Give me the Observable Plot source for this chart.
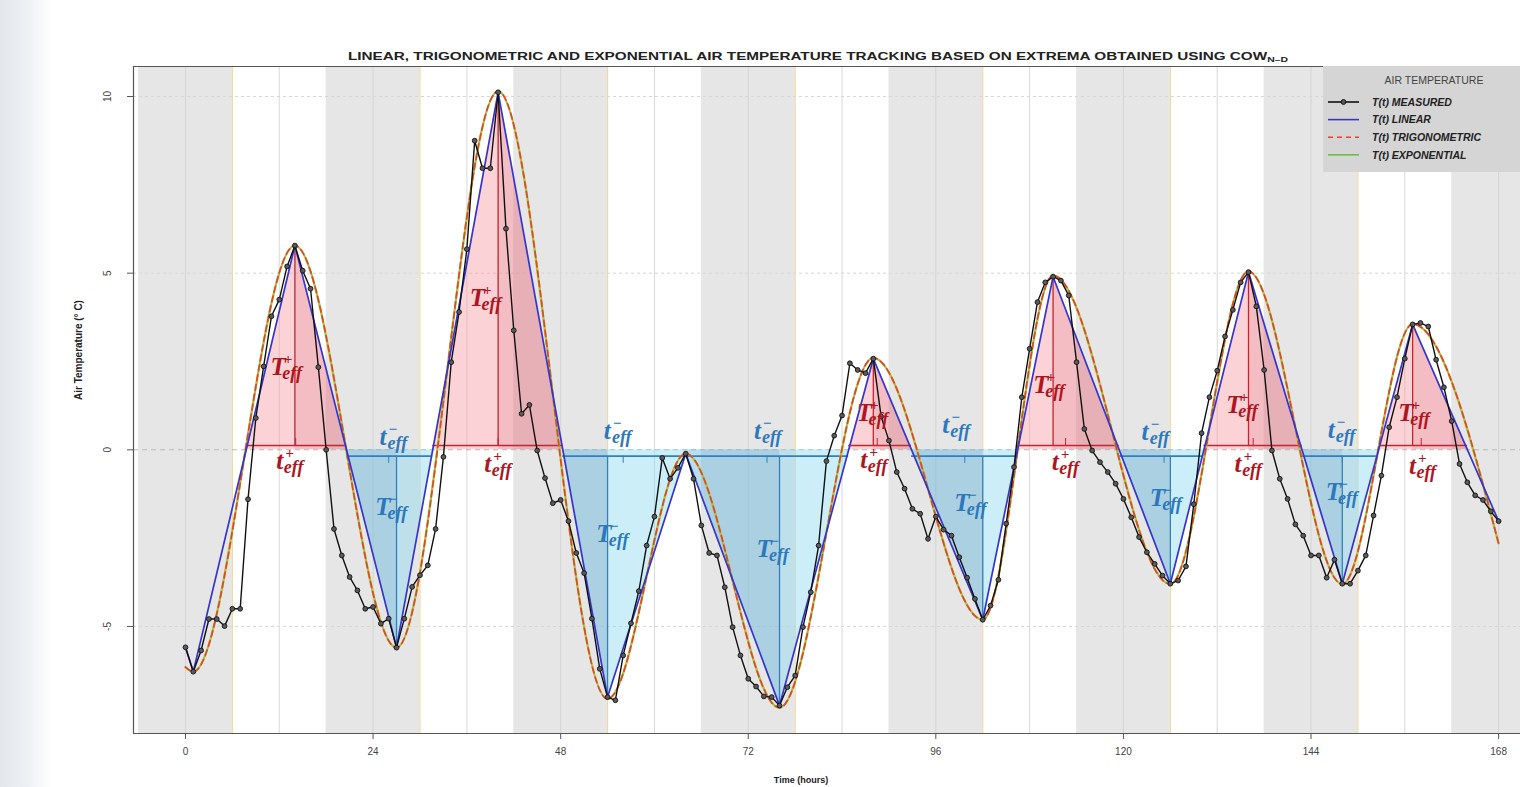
<!DOCTYPE html>
<html><head><meta charset="utf-8">
<script src="https://cdn.jsdelivr.net/npm/d3@7"></script>
<script src="https://cdn.jsdelivr.net/npm/@observablehq/plot@0.6"></script>
<style>
body{margin:0;background:#fff;font-family:"Liberation Sans",Arial,sans-serif;}
#wrap{position:relative;width:1520px;height:787px;overflow:hidden;background:linear-gradient(to right,#e3e7ec 0px,#eef1f4 28px,#ffffff 52px);}
#title{position:absolute;left:0;top:0;}
#chart{position:absolute;left:0;top:64px;}
#legend{position:absolute;left:1323px;top:66px;}
</style></head>
<body><div id="wrap">
<svg id="title" width="1520" height="64"><text x="818" y="60" text-anchor="middle" font-family="Liberation Sans, Arial, sans-serif" font-weight="bold" font-size="11" fill="#222" textLength="940" lengthAdjust="spacingAndGlyphs">LINEAR, TRIGONOMETRIC AND EXPONENTIAL AIR TEMPERATURE TRACKING BASED ON EXTREMA OBTAINED USING COW<tspan font-size="7.5" dy="2">N–D</tspan></text></svg>
<div id="chart"></div>
<svg id="legend" width="197" height="106"></svg>
</div>
<script>
// ---- data ----
const measured = [-5.59,-6.28,-5.68,-4.79,-4.79,-4.99,-4.5,-4.5,-1.4,0.9,2.36,3.78,4.25,5.19,5.78,5.07,4.56,2.34,0.0,-2.24,
-2.99,-3.6,-3.98,-4.5,-4.45,-4.92,-4.78,-5.6,-4.78,-3.88,-3.55,-3.27,-2.24,-0.2,2.48,3.9,5.68,8.75,7.97,7.97,
10.12,6.26,3.38,1.02,1.27,-0.02,-0.8,-1.51,-1.42,-2.02,-2.92,-3.49,-4.78,-6.2,-7.0,-7.09,-5.82,-4.91,-4.0,-2.71,
-1.89,-0.23,-0.82,-0.51,-0.11,-0.82,-2.14,-2.92,-2.99,-3.89,-5.02,-5.82,-6.48,-6.7,-6.98,-7.0,-7.24,-6.72,-6.39,-5.02,
-4.03,-2.71,-0.32,0.4,0.97,2.45,2.26,2.17,2.58,0.94,0.26,-0.63,-1.1,-1.67,-1.81,-2.52,-1.89,-2.26,-2.43,-3.04,
-3.62,-4.22,-4.81,-4.41,-3.68,-2.09,-0.49,1.49,2.86,4.18,4.74,4.9,4.79,4.37,2.48,0.59,-0.02,-0.35,-0.63,-0.96,
-1.39,-1.91,-2.47,-2.9,-3.23,-3.56,-3.79,-3.7,-3.3,-1.54,0.47,1.49,2.24,3.21,3.96,4.74,5.03,4.06,2.26,-0.02,
-0.82,-1.39,-2.11,-2.43,-2.99,-2.99,-3.62,-3.11,-3.79,-3.79,-3.42,-2.99,-1.86,-0.73,0.64,1.49,2.58,3.55,3.59,3.49,
2.55,1.77,0.81,-0.4,-0.92,-1.29,-1.42,-1.74,-2.02];
const extremaT = [0,1,14,27,40,54,64,76,88,102,111,126,136,148,157,168];
const extremaV = [-5.59,-6.28,5.78,-5.6,10.12,-7.0,-0.11,-7.24,2.58,-4.81,4.9,-3.79,5.03,-3.79,3.55,-2.02];
const curveT = [0,1,14,27,40,54,64,76,88,102,111,126,136,148,157,168];
const curveV = [-6.15,-6.28,5.78,-5.6,10.15,-7.05,-0.11,-7.3,2.6,-4.81,4.93,-3.8,5.05,-3.8,3.56,-2.65];
const peakT = [14,40,88,111,136,157];
const troughT = [27,54,76,102,126,148];
const sunset = [-6,18,42,66,90,114,138,162];
const sunrise = [6,30,54,78,102,126,150,174];
const gridHours = [0,12,24,36,48,60,72,84,96,108,120,132,144,156,168];
const xTicks = [0,24,48,72,96,120,144,168];
const yTicks = [-5,0,5,10];
const effLevelPos = 0.12, effLevelNeg = -0.18;
const teffPosT = [14.1,40.0,88.5,112.6,136.6,158.1];
const teffNegT = [26.0,56.0,74.4,99.7,125.2,148.0];
// label centres (hours, °C)
const TposLabT = [13.3,38.8,88.3,110.9,135.6,157.6], TposLabV = [2.27,4.2,0.97,1.76,1.17,0.97];
const tposLabT = [13.8,40.4,88.5,113.0,136.4,158.7], tposLabV = [-0.39,-0.5,-0.36,-0.44,-0.5,-0.53];
const tnegLabT = [27.0,55.7,74.9,99.0,124.5,148.3], tnegLabV = [0.29,0.46,0.46,0.63,0.41,0.49];
const TnegLabT = [26.7,55.0,75.5,100.8,125.8,148.3], TnegLabV = [-1.69,-2.48,-2.88,-1.58,-1.44,-1.29];

// ---- derived tables ----
const meas = measured.map((v,i)=>({t:i, v}));
const ext = extremaT.map((t,i)=>({t, v:extremaV[i]}));
const crv = curveT.map((t,i)=>({t, v:curveV[i]}));
const vAt = t => ext.find(d=>d.t===t).v;
const xLo = -6.65, xHi = 170.8, yLo = -8.03, yHi = 10.85;

const fills = [];
let gid = 0;
for (let i = 1; i < ext.length-1; i++) {
  const a = ext[i], b = ext[i+1];
  const rising = b.v > a.v;
  for (const s of [1,-1]) {
    if (s === -1 && (a.t < peakT[0] || b.t > peakT[peakT.length-1])) continue;
    const pa = a.v*s >= 0, pb = b.v*s >= 0;
    if (!pa && !pb) continue;
    let p1 = a, p2 = b;
    const tc = a.t + (0 - a.v)/(b.v - a.v)*(b.t - a.t);
    if (!pa) p1 = {t:tc, v:0};
    if (!pb) p2 = {t:tc, v:0};
    const kind = (s>0?"pos":"neg") + (rising?"Rise":"Fall");
    gid++;
    fills.push({...p1, g:gid, kind}, {...p2, g:gid, kind});
  }
}
function crossing(t1, t2){const v1=vAt(t1), v2=vAt(t2); return t1 + (0-v1)/(v2-v1)*(t2-t1);}
const idx = t => extremaT.indexOf(t);
const posLines = peakT.map(t=>{const i=idx(t); return {x1:crossing(extremaT[i-1],t), x2:crossing(t,extremaT[i+1])};});
const negGroups = [[27],[54,64,76],[102],[126],[148]];
const negLines = negGroups.map(g=>{const i=idx(g[0]), j=idx(g[g.length-1]); return {x1:crossing(extremaT[i-1],g[0]), x2:crossing(g[g.length-1],extremaT[j+1])};});
const nights = sunset.map((s,i)=>({x1:s, x2:sunrise[i]}));

const red = "#c0272d", blue = "#2f7fc1", redTxt = "#b0151f", blueTxt = "#2b78bd";
const fillCol = {posRise:"rgba(246,150,158,0.42)", posFall:"rgba(232,118,130,0.48)", negRise:"rgba(140,218,242,0.45)", negFall:"rgba(100,182,222,0.45)"};

// labels encoded as base|sup|sub, rebuilt as tspans after rendering
function label(tArr, vArr, letter, sign, color, dx){
  const d = tArr.map((t,i)=>({t, v:vArr[i]}));
  return Plot.text(d, {x:"t", y:"v", text:()=>`${letter}|${sign}|eff`, dx, dy:5, fill:color,
    fontFamily:"Liberation Serif, DejaVu Serif, serif", fontWeight:"bold", fontStyle:"italic",
    lineAnchor:"bottom", textAnchor:"start", fontSize:25});
}

const chart = Plot.plot({
  width:1520, height:723, marginTop:2, marginLeft:133, marginRight:0, marginBottom:54,
  style:{background:"transparent", fontFamily:"Liberation Sans, Arial, sans-serif"},
  x:{domain:[xLo,xHi]}, y:{domain:[yLo,yHi]},
  marks:[
    Plot.rect(nights, {x1:"x1", x2:"x2", fill:"#e6e6e6", clip:true}),
    Plot.ruleX(gridHours, {stroke:"#cfcfcf", strokeWidth:1, strokeOpacity:0.8}),
    Plot.ruleX(sunrise, {stroke:"#efd9a2", strokeWidth:1.2, clip:true}),
    Plot.ruleY([-5,5,10], {stroke:"#d6d6d6", strokeDasharray:"3,3"}),
    Plot.ruleY([0], {stroke:"#b9b9b9", strokeDasharray:"5,4", strokeWidth:1.1}),
    Plot.areaY(fills, {x:"t", y1:0, y2:"v", z:"g", fill:d=>fillCol[d.kind], curve:"linear"}),
    Plot.ruleY(posLines, {y:()=>effLevelPos, x1:"x1", x2:"x2", stroke:red, strokeWidth:1.6}),
    Plot.ruleY(negLines, {y:()=>effLevelNeg, x1:"x1", x2:"x2", stroke:blue, strokeWidth:1.6}),
    Plot.ruleX(peakT, {x:d=>d, y1:()=>effLevelPos, y2:d=>vAt(d), stroke:red, strokeWidth:1.3}),
    Plot.ruleX(troughT, {x:d=>d, y1:()=>effLevelNeg, y2:d=>vAt(d), stroke:blue, strokeWidth:1.3}),
    Plot.ruleX(teffPosT, {x:d=>d, y1:()=>effLevelPos, y2:()=>effLevelPos+0.2, stroke:red, strokeWidth:1}),
    Plot.ruleX(teffNegT, {x:d=>d, y1:()=>effLevelNeg, y2:()=>effLevelNeg-0.2, stroke:blue, strokeWidth:1}),
    Plot.line(crv, {x:"t", y:"v", stroke:"#a9c437", strokeWidth:2.3, curve:"monotone-x"}),
    Plot.line(crv, {x:"t", y:"v", stroke:"#e2452f", strokeWidth:1.7, strokeDasharray:"6,4", curve:"monotone-x"}),
    Plot.line(ext, {x:"t", y:"v", stroke:"#3434cf", strokeWidth:1.7}),
    Plot.line(meas, {x:"t", y:"v", stroke:"#111", strokeWidth:1.4}),
    Plot.dot(meas, {x:"t", y:"v", r:2.4, fill:"#5a5a5a", stroke:"#111", strokeWidth:0.9}),
    label(TposLabT, TposLabV, "T", "+", redTxt, -19),
    label(tposLabT, tposLabV, "t", "+", redTxt, -17),
    label(tnegLabT, tnegLabV, "t", "−", blueTxt, -17),
    label(TnegLabT, TnegLabV, "T", "−", blueTxt, -19),
    Plot.ruleY([yHi, yLo], {stroke:"#555", strokeWidth:1.2}),
    Plot.ruleX([xLo], {stroke:"#555", strokeWidth:1.2}),
    Plot.axisX(xTicks, {tickSize:6, tickPadding:8, fontSize:10, stroke:"#555", color:"#444", label:null, tickFormat:d=>String(d)}),
    Plot.axisY(yTicks, {tickSize:6, stroke:"#555", label:null, tickFormat:()=>""}),
    Plot.text(yTicks, {x:()=>xLo, y:d=>d, text:d=>String(d), rotate:-90, dx:-26, fontSize:10, fill:"#444", textAnchor:"middle", lineAnchor:"middle"}),
    Plot.text(["Time (hours)"], {frameAnchor:"bottom", dx:-26, dy:49, fontSize:9, fontWeight:"bold", fill:"#222"}),
    Plot.text(["Air Temperature (° C)"], {frameAnchor:"left", dx:-55, rotate:-90, fontSize:10, fontWeight:"bold", fill:"#222"})
  ]
});
document.getElementById("chart").appendChild(chart);

// rebuild composite labels with superscript / subscript tspans
d3.select(chart).selectAll("text").each(function(){
  const s = this.textContent;
  if (!s.includes("|")) return;
  const [base, sup, sub] = s.split("|");
  const isT = base === "T";
  const el = d3.select(this);
  el.text(null);
  el.append("tspan").text(base);
  el.append("tspan").attr("font-size",15).attr("dx", isT ? -2 : 2).attr("dy",-11).text(sup);
  el.append("tspan").attr("font-size",18).attr("dx", isT ? -10 : -10).attr("dy",15).text(sub);
});

// legend
const lg = d3.select("#legend");
lg.append("rect").attr("width",197).attr("height",106).attr("fill","#d5d5d5");
lg.append("text").attr("x",111).attr("y",18).attr("text-anchor","middle").attr("font-size",10.5).attr("fill","#444").attr("font-family","Liberation Sans, Arial").text("AIR TEMPERATURE");
const items = [
  {name:"T(t) MEASURED", stroke:"#111", dash:null, dot:true},
  {name:"T(t) LINEAR", stroke:"#3434cf", dash:null},
  {name:"T(t) TRIGONOMETRIC", stroke:"#e2452f", dash:"5,4"},
  {name:"T(t) EXPONENTIAL", stroke:"#6fbf46", dash:null}
];
items.forEach((it,i)=>{
  const y = 36 + i*17.6;
  lg.append("line").attr("x1",5).attr("x2",36).attr("y1",y).attr("y2",y).attr("stroke",it.stroke).attr("stroke-width",1.6).attr("stroke-dasharray",it.dash);
  if (it.dot) lg.append("circle").attr("cx",20.5).attr("cy",y).attr("r",2.4).attr("fill","#5a5a5a").attr("stroke","#111");
  lg.append("text").attr("x",49).attr("y",y+3.8).attr("font-size",10.5).attr("font-weight","bold").attr("font-style","italic").attr("fill","#222").attr("font-family","Liberation Sans, Arial").text(it.name);
});
</script>
</body></html>
